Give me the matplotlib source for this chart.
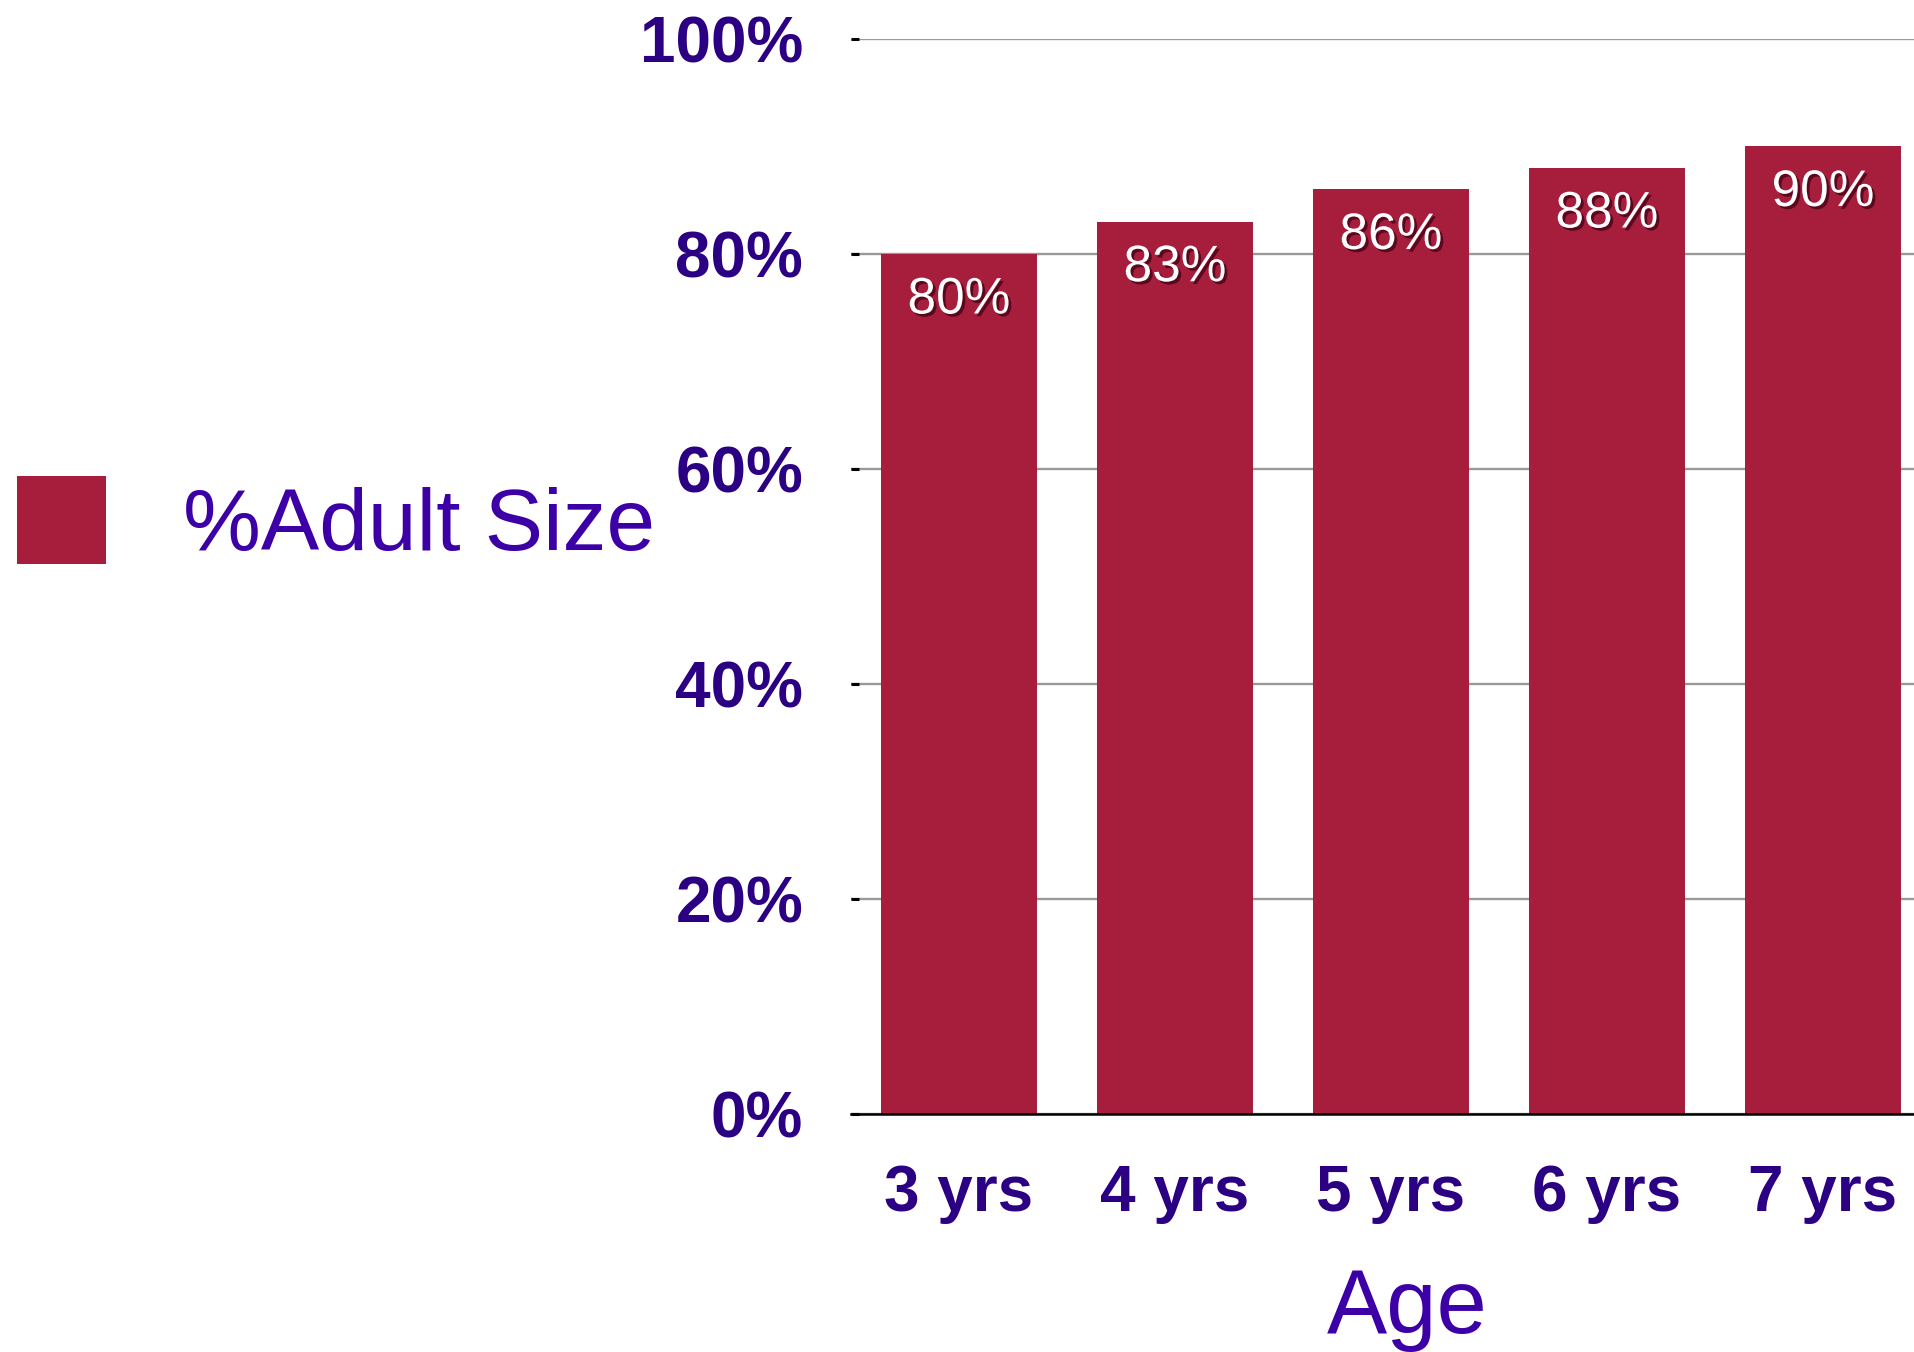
import matplotlib
matplotlib.use("Agg")
import matplotlib.pyplot as plt
import matplotlib.patheffects as pe

ages = ["3 yrs", "4 yrs", "5 yrs", "6 yrs", "7 yrs"]
adult_size_pct = [80, 83, 86, 88, 90]
y_ticks = [0, 20, 40, 60, 80, 100]
y_tick_labels = ["0%", "20%", "40%", "60%", "80%", "100%"]
series_label = "%Adult Size"
x_title = "Age"

DPI = 100
fig = plt.figure(figsize=(19.14, 13.52), dpi=DPI)
W, H = 1914, 1352
ax = fig.add_axes([851 / W, 238 / H, 1080 / W, 1075 / H])

tick_color = "#2B0082"
text_color = "#3C00A6"
bar_color = "#A61E3C"

x = list(range(len(ages)))
bars = ax.bar(x, adult_size_pct, width=0.72, color=bar_color, label=series_label, zorder=2)

ax.set_xlim(-0.5, len(ages) - 0.5)
ax.set_ylim(0, 100)
ax.set_yticks(y_ticks)
ax.set_yticklabels(y_tick_labels, fontfamily="Liberation Sans", fontweight="bold",
                   fontsize=46, color=tick_color)
ax.set_xticks(x)
ax.set_xticklabels(ages, fontfamily="Liberation Sans", fontweight="bold",
                   fontsize=46, color=tick_color)
ax.tick_params(axis="y", direction="in", length=5.8, width=2.2, color="black", pad=34.5)
ax.tick_params(axis="x", length=0, pad=36)

for s in ["top", "right", "left"]:
    ax.spines[s].set_visible(False)
ax.spines["bottom"].set_linewidth(1.8)
ax.spines["bottom"].set_color("black")
ax.spines["bottom"].set_zorder(3)

ax.yaxis.grid(True, color="#999999", linewidth=1.7, zorder=0)
ax.set_axisbelow(True)

for rect, v in zip(bars, adult_size_pct):
    ax.annotate(f"{v}%", (rect.get_x() + rect.get_width() / 2, v),
                xytext=(0, -46 * 72 / DPI), textcoords="offset points",
                ha="center", va="center", fontsize=37, color="white",
                fontfamily="Liberation Sans",
                path_effects=[pe.withSimplePatchShadow(offset=(2, -2), shadow_rgbFace="#3a0010", alpha=0.7)],
                zorder=4)

leg = ax.legend(handles=[bars], labels=[series_label], loc="center left",
                bbox_to_anchor=(17 / W, 1 - 522 / H), bbox_transform=fig.transFigure,
                frameon=False, borderpad=0, borderaxespad=0,
                handlelength=1.02, handleheight=1.16, handletextpad=0.88,
                prop={"family": "Liberation Sans", "size": 63})
for t in leg.get_texts():
    t.set_color(text_color)

fig.text(1407 / W, 19 / H, x_title, ha="center", va="baseline",
         fontsize=65, fontfamily="Liberation Sans", color=text_color)

fig.savefig("out.png", dpi=DPI)
